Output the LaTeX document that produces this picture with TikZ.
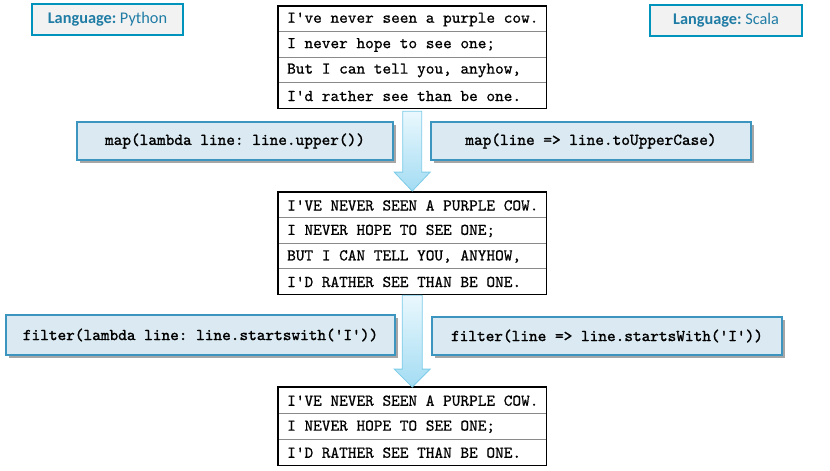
\documentclass[tikz,border=0pt]{standalone}
\usepackage{fontspec}
\usetikzlibrary{shadows,fit,calc}
\newfontfamily\labelfont{Carlito}
\newfontfamily\poemfont{lmmono10-regular.otf}[RawFeature={embolden=0.7}]
\newfontfamily\opfont{lmmono10-regular.otf}[RawFeature={embolden=1.4}]
\definecolor{langborder}{HTML}{0093BB}
\definecolor{langfill}{HTML}{F2F2F2}
\definecolor{langtext}{HTML}{1F7CA5}
\definecolor{opfill}{HTML}{DBEAF2}
\definecolor{opborder}{HTML}{3C95BF}
\definecolor{arrowtop}{HTML}{EAF8FD}
\definecolor{arrowbottom}{HTML}{A3DCF3}
\definecolor{arrowborder}{HTML}{7CCBE8}
\definecolor{rulegray}{HTML}{8A8A8A}
\tikzset{
  langbox/.style={draw=langborder, line width=2.6pt, fill=langfill, inner sep=0pt,
    font=\labelfont\fontsize{16.3}{19}\selectfont, text=langtext},
  opbox/.style={draw=opborder, line width=1.1pt, fill=opfill, inner sep=0pt,
    font=\opfont\fontsize{16.5}{18}\selectfont,
    drop shadow={shadow xshift=2.5pt, shadow yshift=-2.5pt, fill=black, opacity=0.35}},
  poemcell/.style={anchor=north west, minimum width=268pt, inner sep=0pt},
  poemtext/.style={anchor=west, inner sep=0pt, font=\poemfont\fontsize{16.5}{18}\selectfont},
  tableframe/.style={draw=black, line width=1.8pt, inner sep=0pt},
  rowrule/.style={draw=rulegray, line width=0.9pt},
  flowarrow/.style={draw=arrowborder, line width=0.8pt, top color=arrowtop, bottom color=arrowbottom, line join=miter}
}
\begin{document}
\frenchspacing
\begin{tikzpicture}[x=1pt, y=-1pt]
\useasboundingbox (0,0) rectangle (830,471);

% language labels
\node[langbox, minimum width=151pt, minimum height=31pt] (py) at (107.5,19.5) {\textbf{Language:} Python\hspace{8pt}};
\node[langbox, minimum width=152pt, minimum height=31pt] (sc) at (726,20.5) {\textbf{Language:} Scala\hspace{6pt}};

% first table: original text
\foreach \i/\txt in {1/{I've never seen a purple cow.}, 2/{I never hope to see one;}, 3/{But I can tell you, anyhow,}, 4/{I'd rather see than be one.}}{
  \node[poemcell, minimum height=25.5pt] (a\i) at (278,{6+(\i-1)*25.5}) {};
  \node[poemtext] (at\i) at ($(a\i.west)+(9,0.5)$) {\txt};
}
\draw[rowrule] (a1.south west) -- (a1.south east);
\draw[rowrule] (a2.south west) -- (a2.south east);
\draw[rowrule] (a3.south west) -- (a3.south east);
\node[tableframe, fit=(a1)(a4)] (ta) {};

% second table: upper case
\foreach \i/\txt in {1/{I'VE NEVER SEEN A PURPLE COW.}, 2/{I NEVER HOPE TO SEE ONE;}, 3/{BUT I CAN TELL YOU, ANYHOW,}, 4/{I'D RATHER SEE THAN BE ONE.}}{
  \node[poemcell, minimum height=25.5pt] (b\i) at (278,{192+(\i-1)*25.5}) {};
  \node[poemtext] (bt\i) at ($(b\i.west)+(9,0.5)$) {\txt};
}
\draw[rowrule] (b1.south west) -- (b1.south east);
\draw[rowrule] (b2.south west) -- (b2.south east);
\draw[rowrule] (b3.south west) -- (b3.south east);
\node[tableframe, fit=(b1)(b4)] (tb) {};

% third table: filtered lines
\foreach \i/\txt in {1/{I'VE NEVER SEEN A PURPLE COW.}, 2/{I NEVER HOPE TO SEE ONE;}, 3/{I'D RATHER SEE THAN BE ONE.}}{
  \node[poemcell, minimum height=26pt] (c\i) at (278,{387+(\i-1)*26}) {};
  \node[poemtext] (ct\i) at ($(c\i.west)+(9,0.5)$) {\txt};
}
\draw[rowrule] (c1.south west) -- (c1.south east);
\draw[rowrule] (c2.south west) -- (c2.south east);
\node[tableframe, fit=(c1)(c3)] (tc) {};

% block arrows between tables
\path[flowarrow]
  ($(ta.south)+(-9.5,2)$) -- ($(ta.south)+(9.5,2)$) -- ($(tb.north)+(9.5,-19)$)
  -- ($(tb.north)+(18,-19)$) -- (tb.north) -- ($(tb.north)+(-18,-19)$)
  -- ($(tb.north)+(-9.5,-19)$) -- cycle;
\path[flowarrow]
  ($(tb.south)+(-10,0)$) -- ($(tb.south)+(10,0)$) -- ($(tc.north)+(10,-17)$)
  -- ($(tc.north)+(18,-17)$) -- ($(tc.north)+(0,1)$) -- ($(tc.north)+(-18,-17)$)
  -- ($(tc.north)+(-10,-17)$) -- cycle;

% transformation boxes
\node[opbox, minimum width=316pt, minimum height=38pt] (pymap) at (235,141) {map(lambda line: line.upper())};
\node[opbox, minimum width=320pt, minimum height=38pt] (scmap) at (591,141) {map(line => line.toUpperCase)};
\node[opbox, minimum width=389pt, minimum height=40pt] (pyfilter) at (200.5,335) {filter(lambda line: line.startswith('I'))};
\node[opbox, minimum width=350pt, minimum height=38pt] (scfilter) at (607,336) {filter(line => line.startsWith('I'))};
\end{tikzpicture}
\end{document}
